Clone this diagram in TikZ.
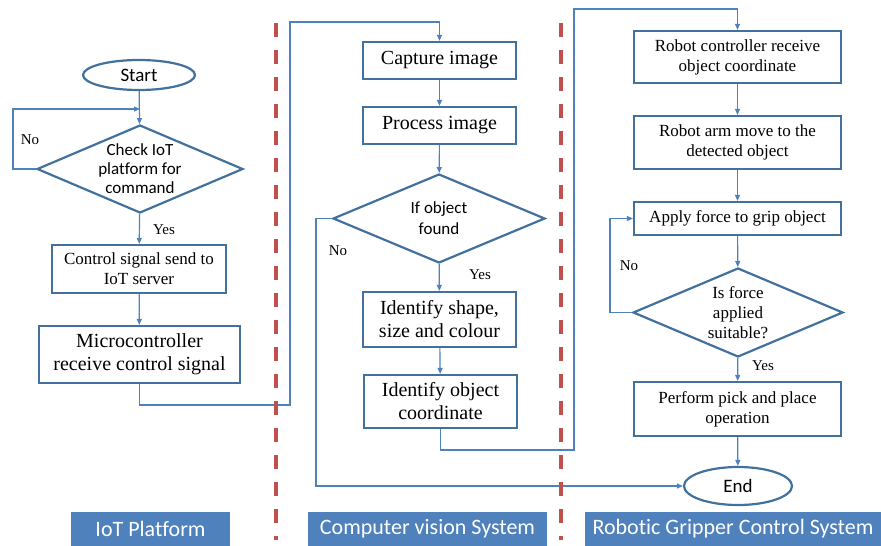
\documentclass[tikz,border=0pt]{standalone}
\usepackage{fontspec}
\setmainfont{Liberation Serif}
\newfontfamily\calibfont[Ligatures=NoCommon]{Carlito}
\usetikzlibrary{positioning,shapes.geometric,arrows.meta}
\definecolor{boxblue}{RGB}{65,113,156}
\definecolor{linkblue}{RGB}{79,129,189}
\definecolor{tagblue}{RGB}{79,129,189}
\definecolor{cutred}{RGB}{192,80,77}
\tikzset{
  box/.style={draw=boxblue,line width=2.2pt,align=center,inner sep=0pt},
  bigtxt/.style={font=\fontsize{20}{23}\selectfont},
  smalltxt/.style={font=\fontsize{17}{20}\selectfont},
  decision/.style={diamond,draw=boxblue,line width=2.2pt,align=center,inner sep=0pt,aspect=2.36},
  term/.style={ellipse,draw=boxblue,line width=2.2pt,inner sep=0pt,font=\calibfont\fontsize{19}{22}\selectfont},
  link/.style={draw=linkblue,line width=1.2pt,-{Triangle[length=6pt,width=5pt]}},
  tag/.style={fill=tagblue,text=white,inner sep=0pt,font=\calibfont\fontsize{22}{26}\selectfont},
  cut/.style={draw=cutred,line width=3.5pt,dash pattern=on 14pt off 13pt},
  ans/.style={font=\fontsize{15}{18}\selectfont}
}
\begin{document}
\begin{tikzpicture}[x=1pt,y=-1pt]
\useasboundingbox (0,0) rectangle (881,546);
\node[term,minimum width=112,minimum height=30] (start) at (139,75) {Start};
\node[decision,minimum width=206,minimum height=88,font=\calibfont\fontsize{17}{19}\selectfont] (check) at (140,169) {Check IoT\\platform for\\command};
\coordinate (j1) at (140,109);
\node[box,smalltxt,minimum width=174,minimum height=48] (ctrl) at (139,269) {Control signal send to\\IoT server};
\node[box,bigtxt,minimum width=201,minimum height=57] (micro) at (139.5,354.5) {Microcontroller\\receive control signal};
\node[ans] (no1) at (30,140) {No};
\node[ans] (yes1) at (164,230) {Yes};
\coordinate (a1) at (290,405);
\coordinate (a2) at (290,22);
\node[box,bigtxt,minimum width=153,minimum height=37] (capture) at (439.5,60.5) {Capture image};
\node[box,bigtxt,minimum width=153,minimum height=37] (process) at (439.5,125.5) {Process image};
\node[decision,minimum width=212,minimum height=89,font=\calibfont\fontsize{17}{21}\selectfont] (found) at (439,218.5) {If object\\found};
\node[box,bigtxt,minimum width=153,minimum height=55] (shape) at (439.5,319.5) {Identify shape,\\size and colour};
\node[box,bigtxt,minimum width=153,minimum height=53] (ident) at (440.5,401.5) {Identify object\\coordinate};
\node[ans] (no2) at (338,251) {No};
\node[ans] (yes2) at (480,275) {Yes};
\coordinate (b1) at (574,450);
\coordinate (b2) at (574,9);
\node[box,smalltxt,minimum width=207,minimum height=52] (rctrl) at (737.5,57) {Robot controller receive\\object coordinate};
\node[box,smalltxt,minimum width=207,minimum height=53] (arm) at (737.5,142.5) {Robot arm move to the\\detected object};
\node[box,smalltxt,minimum width=207,minimum height=33] (apply) at (737.5,218.5) {Apply force to grip object};
\node[decision,smalltxt,minimum width=210,minimum height=89] (force) at (738,312.5) {Is force\\applied\\suitable?};
\node[box,smalltxt,minimum width=207,minimum height=54] (perform) at (737.5,409) {Perform pick and place\\operation};
\node[term,minimum width=108,minimum height=38] (end) at (738,486) {End};
\node[ans] (no3) at (629,266) {No};
\node[ans] (yes3) at (763,366) {Yes};
\draw[link] (start) -- (check);
\draw[link] (check.west) -- ++(-23,0) |- (j1);
\draw[link] (check) -- (ctrl);
\draw[link] (ctrl) -- (micro);
\draw[link] (micro.south) |- (a1) -- (a2) -| (capture.north);
\draw[link] (capture) -- (process);
\draw[link] (process) -- (found);
\draw[link] (found) -- (shape);
\draw[link] (shape) -- (ident);
\draw[link] (found.west) -- ++(-16,0) |- (end.west);
\draw[link] (ident.south) |- (b1) -- (b2) -| (rctrl.north);
\draw[link] (rctrl) -- (arm);
\draw[link] (arm) -- (apply);
\draw[link] (apply) -- (force);
\draw[link] (force.west) -- ++(-22,0) |- (apply.west);
\draw[link] (force) -- (perform);
\draw[link] (perform) -- (end);
\draw[cut] (276,23) -- (276,540);
\draw[cut] (561,23) -- (561,540);
\node[tag,minimum width=159,minimum height=34] (iot) at (150.5,529) {IoT Platform};
\node[tag,minimum width=239,minimum height=34] (cvs) at (427.5,529) {Computer vision System};
\node[tag,minimum width=296,minimum height=34] (rgc) at (733,529) {Robotic Gripper Control System};
\end{tikzpicture}
\end{document}
